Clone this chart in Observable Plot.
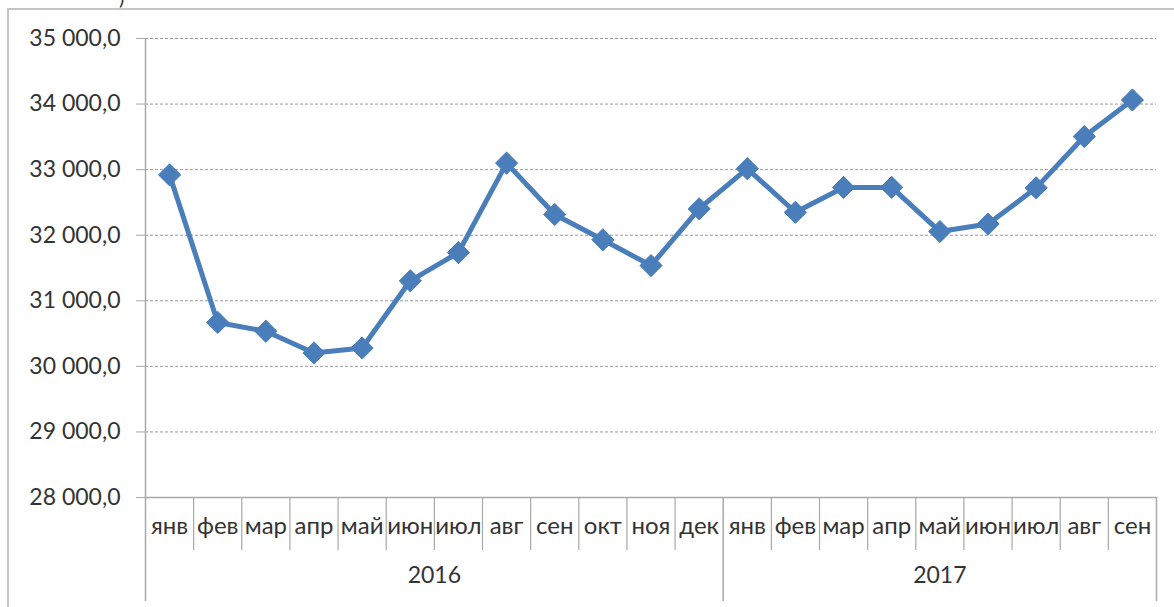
<!DOCTYPE html>
<html>
<head>
<meta charset="utf-8">
<script src="https://cdn.jsdelivr.net/npm/d3@7"></script>
<script src="https://cdn.jsdelivr.net/npm/@observablehq/plot@0.6"></script>
<style>
  html, body { margin: 0; padding: 0; background: #fff; }
  body { width: 1174px; height: 607px; position: relative; overflow: hidden; font-family: Lato, "Open Sans", sans-serif; }
  #frame { position: absolute; left: 7px; top: 8px; width: 1200px; height: 640px; border-left: 2px solid #c4c4c4; border-top: 2px solid #c4c4c4; pointer-events: none; }
  #cut { position: absolute; left: 119px; top: -13px; font-size: 20px; line-height: 20px; color: #333; }
  #chart { position: absolute; left: 0; top: 0; }
</style>
</head>
<body>
<div id="cut">)</div>
<div id="frame"></div>
<div id="chart"></div>
<script>
// ---- data ----
const months = ["янв","фев","мар","апр","май","июн","июл","авг","сен","окт","ноя","дек",
                "янв","фев","мар","апр","май","июн","июл","авг","сен"];
const values = [32920, 30670, 30535, 30205, 30280, 31305, 31735, 33100, 32316, 31930, 31537, 32403,
                33015, 32350, 32729, 32729, 32056, 32170, 32722, 33505, 34062];
const years = ["2016", "2017"];
const yearCounts = [12, 9];
const yTicks = [28000, 29000, 30000, 31000, 32000, 33000, 34000, 35000];

// ---- derived tables ----
const rows = months.map((m, i) => ({i: i + 0.5, month: m, value: values[i]}));
const yearRows = [];
const yearSeps = [];
let acc = 0;
years.forEach((y, k) => {
  yearRows.push({x: acc + yearCounts[k] / 2, label: y});
  acc += yearCounts[k];
  yearSeps.push(acc);
});
const shortSeps = d3.range(1, months.length).filter(b => !yearSeps.includes(b));

const fmt = v => d3.format(",.1f")(v).replace(/,/g, " ").replace(".", ",");

const grey = "#a8a8a8";
const blue = "#4a7ebb";
const font = "Lato, 'Open Sans', sans-serif";

const plot = Plot.plot({
  width: 1174,
  height: 607,
  marginLeft: 145,
  marginRight: 18,
  marginTop: 38,
  marginBottom: 6,
  style: {fontFamily: font, fontSize: "23px", color: "#333", background: "transparent", overflow: "visible"},
  x: {type: "linear", domain: [0, months.length], axis: null},
  y: {domain: [28000, 35000], range: [497, 38], axis: null},
  marks: [
    Plot.ruleY(yTicks.filter(t => t !== 28000), {stroke: "#9a9a9a", strokeDasharray: "3,2", strokeWidth: 1}),
    Plot.ruleY([28000], {stroke: grey, strokeWidth: 1.5}),
    Plot.axisY({ticks: yTicks, tickFormat: fmt, tickSize: 9, tickPadding: 16, stroke: grey, fontSize: 23, fill: "#333", label: null}),
    Plot.ruleX([0], {stroke: grey, strokeWidth: 1.5}),
    Plot.ruleX(yearSeps, {stroke: grey, strokeWidth: 1.5, insetTop: 459}),
    Plot.ruleX(shortSeps, {stroke: grey, strokeWidth: 1.2, insetTop: 459, insetBottom: 51}),
    Plot.text(rows, {x: "i", text: "month", frameAnchor: "bottom", dy: -68, fontSize: 24, fill: "#333"}),
    Plot.text(yearRows, {x: "x", text: "label", frameAnchor: "bottom", dy: -19, fontSize: 23, fill: "#333"}),
    Plot.line(rows, {x: "i", y: "value", stroke: blue, strokeWidth: 5, strokeLinejoin: "round"}),
    Plot.dot(rows, {x: "i", y: "value", symbol: "diamond2", r: 10, fill: blue, stroke: blue, strokeWidth: 1})
  ]
});
document.getElementById("chart").appendChild(plot);
</script>
</body>
</html>
